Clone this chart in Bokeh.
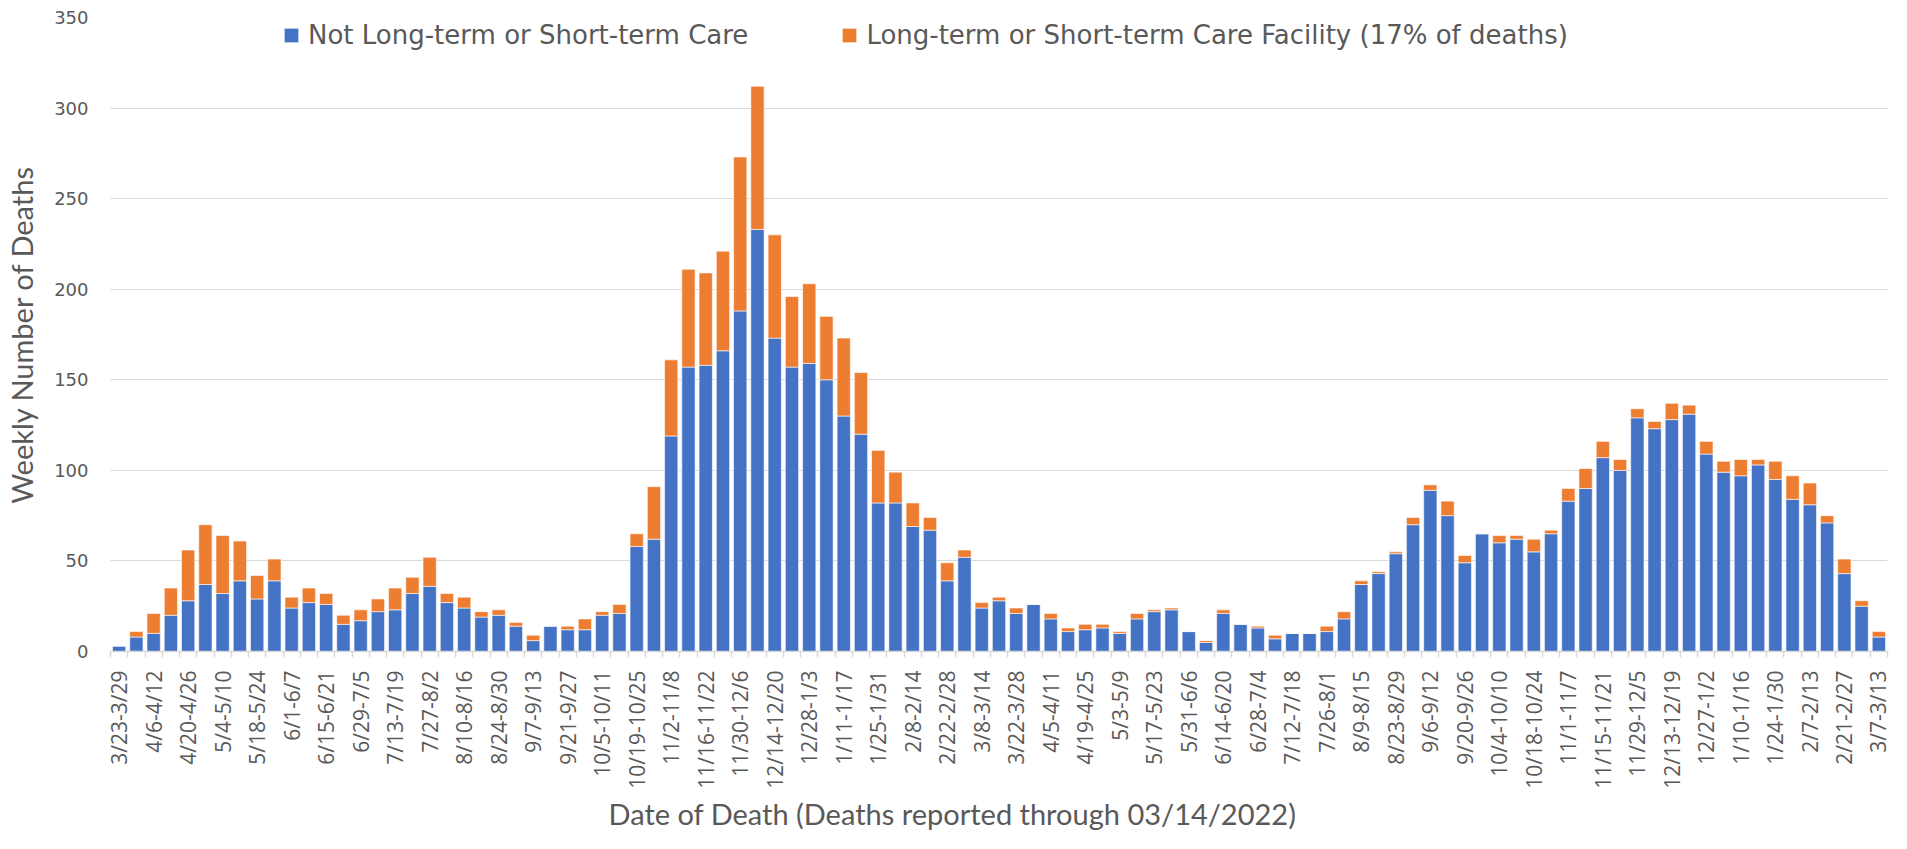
import math
from bokeh.plotting import figure
from bokeh.models import FixedTicker, Legend, LegendItem, ColumnDataSource, Range1d, Title
from bokeh.embed import file_html
from bokeh.resources import INLINE

weeks = [
    "3/23-3/29", "3/30-4/5", "4/6-4/12", "4/13-4/19", "4/20-4/26", "4/27-5/3", "5/4-5/10", "5/11-5/17",
    "5/18-5/24", "5/25-5/31", "6/1-6/7", "6/8-6/14", "6/15-6/21", "6/22-6/28", "6/29-7/5", "7/6-7/12",
    "7/13-7/19", "7/20-7/26", "7/27-8/2", "8/3-8/9", "8/10-8/16", "8/17-8/23", "8/24-8/30", "8/31-9/6",
    "9/7-9/13", "9/14-9/20", "9/21-9/27", "9/28-10/4", "10/5-10/11", "10/12-10/18", "10/19-10/25",
    "10/26-11/1", "11/2-11/8", "11/9-11/15", "11/16-11/22", "11/23-11/29", "11/30-12/6", "12/7-12/13",
    "12/14-12/20", "12/21-12/27", "12/28-1/3", "1/4-1/10", "1/11-1/17", "1/18-1/24", "1/25-1/31",
    "2/1-2/7", "2/8-2/14", "2/15-2/21", "2/22-2/28", "3/1-3/7", "3/8-3/14", "3/15-3/21", "3/22-3/28",
    "3/29-4/4", "4/5-4/11", "4/12-4/18", "4/19-4/25", "4/26-5/2", "5/3-5/9", "5/10-5/16", "5/17-5/23",
    "5/24-5/30", "5/31-6/6", "6/7-6/13", "6/14-6/20", "6/21-6/27", "6/28-7/4", "7/5-7/11", "7/12-7/18",
    "7/19-7/25", "7/26-8/1", "8/2-8/8", "8/9-8/15", "8/16-8/22", "8/23-8/29", "8/30-9/5", "9/6-9/12",
    "9/13-9/19", "9/20-9/26", "9/27-10/3", "10/4-10/10", "10/11-10/17", "10/18-10/24", "10/25-10/31",
    "11/1-11/7", "11/8-11/14", "11/15-11/21", "11/22-11/28", "11/29-12/5", "12/6-12/12", "12/13-12/19",
    "12/20-12/26", "12/27-1/2", "1/3-1/9", "1/10-1/16", "1/17-1/23", "1/24-1/30", "1/31-2/6",
    "2/7-2/13", "2/14-2/20", "2/21-2/27", "2/28-3/6", "3/7-3/13",
]

not_ltc = [
    3, 8, 10, 20, 28, 37, 32, 39, 29, 39, 24, 27, 26, 15, 17, 22, 23, 32, 36, 27,
    24, 19, 20, 14, 6, 14, 12, 12, 20, 21, 58, 62, 119, 157, 158, 166, 188, 233, 173, 157,
    159, 150, 130, 120, 82, 82, 69, 67, 39, 52, 24, 28, 21, 26, 18, 11, 12, 13, 10, 18,
    22, 23, 11, 5, 21, 15, 13, 7, 10, 10, 11, 18, 37, 43, 54, 70, 89, 75, 49, 65,
    60, 62, 55, 65, 83, 90, 107, 100, 129, 123, 128, 131, 109, 99, 97, 103, 95, 84, 81, 71,
    43, 25, 8,
]

ltc = [
    0, 3, 11, 15, 28, 33, 32, 22, 13, 12, 6, 8, 6, 5, 6, 7, 12, 9, 16, 5,
    6, 3, 3, 2, 3, 0, 2, 6, 2, 5, 7, 29, 42, 54, 51, 55, 85, 79, 57, 39,
    44, 35, 43, 34, 29, 17, 13, 7, 10, 4, 3, 2, 3, 0, 3, 2, 3, 2, 1, 3,
    1, 1, 0, 1, 2, 0, 1, 2, 0, 0, 3, 4, 2, 1, 1, 4, 3, 8, 4, 0,
    4, 2, 7, 2, 7, 11, 9, 6, 5, 4, 9, 5, 7, 6, 9, 3, 10, 13, 12, 4,
    8, 3, 3,
]

series_names = ["Not Long-term or Short-term Care",
                "Long-term or Short-term Care Facility (17% of deaths)"]
colors = ["#4472C4", "#ED7D31"]
y_ticks = [0, 50, 100, 150, 200, 250, 300, 350]
x_title = "Date of Death (Deaths reported through 03/14/2022)"
y_title = "Weekly Number of Deaths"

TEXT = "#595959"
GRID = "#d9d9d9"

x = list(range(len(weeks)))
source = ColumnDataSource(dict(x=x, not_ltc=not_ltc, ltc=ltc))

p = figure(width=1891, height=833, output_backend="svg", toolbar_location=None,
           x_range=Range1d(-0.5, len(weeks) - 0.5), y_range=Range1d(0, 350),
           min_border_left=110, min_border_right=4, min_border_top=17,
           min_border_bottom=182)
p.outline_line_color = None
p.background_fill_color = "white"

rs = p.vbar_stack(["not_ltc", "ltc"], x="x", width=0.77, source=source,
                  fill_color=colors, line_color="white", line_width=0.6)

legend = Legend(items=[LegendItem(label=series_names[0], renderers=[rs[0]]),
                       LegendItem(label=series_names[1], renderers=[rs[1]])],
                orientation="horizontal", location=(172, 601), spacing=92,
                glyph_width=18, glyph_height=18, label_standoff=8, padding=0,
                margin=0, border_line_color=None, background_fill_alpha=0,
                label_text_font="DejaVu Sans", label_text_font_size="26px",
                label_text_color=TEXT)
p.add_layout(legend)

# y axis
p.yaxis.ticker = FixedTicker(ticks=y_ticks)
p.yaxis.axis_line_color = None
p.yaxis.major_tick_line_color = None
p.yaxis.major_tick_out = 0
p.yaxis.minor_tick_line_color = None
p.yaxis.major_label_standoff = 22
p.yaxis.major_label_text_font = "DejaVu Sans"
p.yaxis.major_label_text_font_size = "18px"
p.yaxis.major_label_text_color = TEXT
p.yaxis.axis_label = y_title
p.yaxis.axis_label_text_font = "Lato"
p.yaxis.axis_label_text_font_size = "29px"
p.yaxis.axis_label_text_font_style = "normal"
p.yaxis.axis_label_text_color = TEXT
p.yaxis.axis_label_standoff = 12

p.ygrid.grid_line_color = GRID
p.ygrid.grid_line_width = 1
p.xgrid.visible = False

# x axis
label_idx = list(range(0, len(weeks), 2))
p.xaxis.ticker = FixedTicker(ticks=label_idx,
                             minor_ticks=[i - 0.5 for i in range(len(weeks) + 1)])
p.xaxis.major_label_overrides = {i: weeks[i] for i in label_idx}
p.xaxis.major_label_orientation = math.pi / 2
p.xaxis.axis_line_color = GRID
p.xaxis.axis_line_width = 1.5
p.xaxis.major_tick_line_color = None
p.xaxis.major_tick_out = 0
p.xaxis.major_tick_in = 0
p.xaxis.minor_tick_line_color = GRID
p.xaxis.minor_tick_line_width = 1.5
p.xaxis.minor_tick_out = 6
p.xaxis.minor_tick_in = 0
p.xaxis.major_label_standoff = 13
p.xaxis.major_label_text_font = "Open Sans"
p.xaxis.major_label_text_font_size = "21px"
p.xaxis.major_label_text_color = TEXT

# x-axis title, placed like the original (left of the frame centre)
p.add_layout(Title(text=x_title, align="left", offset=498, standoff=4,
                   text_font="Lato", text_font_size="29px",
                   text_font_style="normal", text_color=TEXT), "below")

open("out.html", "w").write(file_html(p, INLINE))
